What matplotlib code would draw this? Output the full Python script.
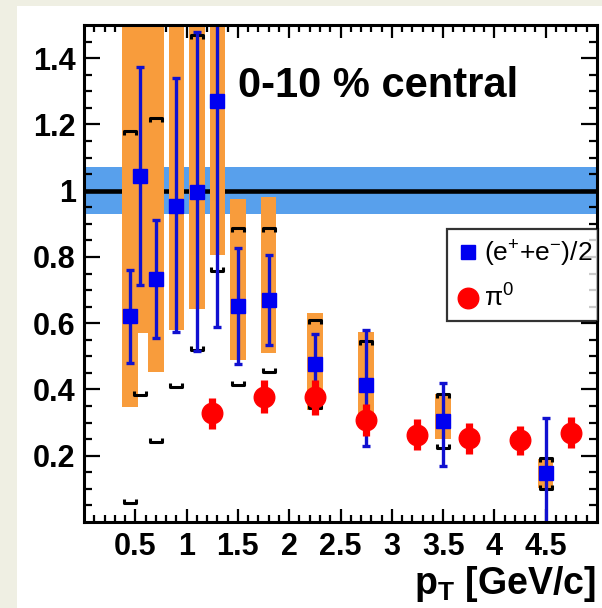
import matplotlib
matplotlib.use("Agg")
import matplotlib.pyplot as plt
from matplotlib.path import Path
from matplotlib.lines import Line2D
from matplotlib.patches import Rectangle
import numpy as np

# ---------------- data ----------------
x_e = [0.45, 0.55, 0.7, 0.9, 1.1, 1.3, 1.5, 1.8, 2.25, 2.75, 3.5, 4.5]
y_e = [0.621, 1.043, 0.732, 0.955, 0.997, 1.271, 0.651, 0.669, 0.477, 0.414, 0.305, 0.148]
stat_hi = [0.761, 1.374, 0.910, 1.339, 1.479, 1.60, 0.827, 0.805, 0.567, 0.579, 0.420, 0.315]
stat_lo = [0.479, 0.714, 0.556, 0.572, 0.517, 0.589, 0.476, 0.534, 0.39, 0.228, 0.168, -0.02]
sys_hi = [1.6, 1.6, 1.6, 1.6, 1.6, 1.6, 0.975, 0.980, 0.632, 0.572, 0.386, 0.191]
sys_lo = [0.348, 0.570, 0.454, 0.579, 0.644, 0.805, 0.489, 0.509, 0.338, 0.30, 0.251, 0.103]
br_hi = [1.179, 1.6, 1.220, 1.6, 1.470, 1.6, 0.887, 0.887, 0.609, 0.546, 0.386, 0.192]
br_lo = [0.057, 0.383, 0.241, 0.408, 0.520, 0.759, 0.414, 0.453, 0.344, 0.29, 0.224, 0.101]

x_pi = [1.25, 1.75, 2.25, 2.75, 3.25, 3.75, 4.25, 4.75]
y_pi = [0.328, 0.378, 0.378, 0.308, 0.263, 0.253, 0.248, 0.270]
pi_hi = [0.373, 0.429, 0.430, 0.355, 0.310, 0.298, 0.290, 0.318]
pi_lo = [0.281, 0.328, 0.323, 0.260, 0.218, 0.206, 0.203, 0.223]

ref_level = 1.0
ref_unc = 0.07

xticks = [0.5, 1, 1.5, 2, 2.5, 3, 3.5, 4, 4.5]
xticklabels = ["0.5", "1", "1.5", "2", "2.5", "3", "3.5", "4", "4.5"]
yticks = [0.2, 0.4, 0.6, 0.8, 1.0, 1.2, 1.4]
yticklabels = ["0.2", "0.4", "0.6", "0.8", "1", "1.2", "1.4"]

# ---------------- style ----------------
plt.rcParams['font.family'] = ['Liberation Sans', 'DejaVu Sans']
plt.rcParams['mathtext.fontset'] = 'custom'
plt.rcParams['mathtext.rm'] = 'Liberation Sans'
plt.rcParams['mathtext.it'] = 'Liberation Sans:italic'
plt.rcParams['mathtext.bf'] = 'Liberation Sans:bold'

W, H = 602, 608
fig = plt.figure(figsize=(W / 100, H / 100), dpi=100)
fig.patch.set_facecolor('#efefe3')
fig.patches.append(Rectangle((17 / W, 0), 1, (H - 6) / H, transform=fig.transFigure,
                             facecolor='white', edgecolor='none', zorder=-10))

ax = fig.add_axes([84 / W, (H - 522) / H, (597 - 84) / W, (522 - 25) / H])
ax.set_xlim(0, 5)
ax.set_ylim(0, 1.5)

BLUE = '#0000f0'
ORANGE = '#f89c3c'
RED = '#ff0000'
BAND = '#58a0ec'

ax.axhspan(ref_level - ref_unc, ref_level + ref_unc, color=BAND, lw=0, zorder=0)
ax.axhline(ref_level, color='black', lw=3.3, zorder=1)

x_e_a = np.array(x_e)
y_e_a = np.array(y_e)
ax.bar(x_e_a, np.array(sys_hi) - np.array(sys_lo), bottom=sys_lo, width=0.152,
       color=ORANGE, lw=0, zorder=2)

top_br = Path([(-1, -0.6), (-1, 0), (1, 0), (1, -0.6)])
bot_br = Path([(-1, 0.6), (-1, 0), (1, 0), (1, 0.6)])
ax.plot(x_e, br_hi, ls='none', marker=top_br, ms=8.6, mew=2.2, mec='black',
        mfc='none', zorder=3)
ax.plot(x_e, br_lo, ls='none', marker=bot_br, ms=8.6, mew=2.2, mec='black',
        mfc='none', zorder=3)

ax.errorbar(x_e, y_e, yerr=[y_e_a - np.array(stat_lo), np.array(stat_hi) - y_e_a],
            fmt='s', color=BLUE, ecolor='#1010d0', ms=10, elinewidth=2.4,
            capsize=2.6, capthick=2.4, zorder=4)

y_pi_a = np.array(y_pi)
ax.errorbar(x_pi, y_pi, yerr=[y_pi_a - np.array(pi_lo), np.array(pi_hi) - y_pi_a],
            fmt='o', color=RED, ms=14.8, elinewidth=5.2, capsize=0, zorder=5)

for s in ax.spines.values():
    s.set_linewidth(2.2)
    s.set_zorder(10)

ax.set_xticks(xticks)
ax.set_xticklabels(xticklabels)
ax.set_yticks(yticks)
ax.set_yticklabels(yticklabels)
ax.set_xticks(np.arange(0.1, 5.0, 0.1), minor=True)
ax.set_yticks(np.arange(0.05, 1.5, 0.05), minor=True)
ax.tick_params(axis='both', which='both', direction='in', top=True, right=True,
               width=1.6, labelsize=22)
ax.tick_params(axis='y', which='major', length=11.5, pad=6.0)
ax.tick_params(axis='y', which='minor', length=5.5)
ax.tick_params(axis='x', which='major', length=9.4, pad=7)
ax.tick_params(axis='x', which='minor', length=5)
for lab in ax.get_xticklabels() + ax.get_yticklabels():
    lab.set_fontweight('bold')

fig.text(238 / W, (H - 97) / H, '0-10 % central', fontsize=30, fontweight='bold',
         ha='left', va='baseline')
fig.text(596 / W, (H - 594) / H, r'$\mathbf{p_{T}}$ [GeV/c]', fontsize=27,
         fontweight='bold', ha='right', va='baseline')

handles = [Line2D([], [], marker='s', ls='none', color=BLUE, ms=9.5),
           Line2D([], [], marker='o', ls='none', color=RED, ms=14.8)]
labels = [r'(e$^{+}$+e$^{-}$)/2', r'π$^{0}$']
leg = ax.legend(handles, labels, loc='upper left',
                bbox_to_anchor=(447 / W, (H - 230) / H, (598 - 447) / W, 0.001),
                bbox_transform=fig.transFigure, mode='expand', fontsize=19,
                frameon=True, fancybox=False, borderpad=0.35, handlelength=0.9,
                handletextpad=0.15, labelspacing=0.6, borderaxespad=0)
leg.get_frame().set_edgecolor('black')
leg.get_frame().set_linewidth(1.6)
leg.set_zorder(20)

fig.savefig('out.png', dpi=100, facecolor=fig.get_facecolor())
